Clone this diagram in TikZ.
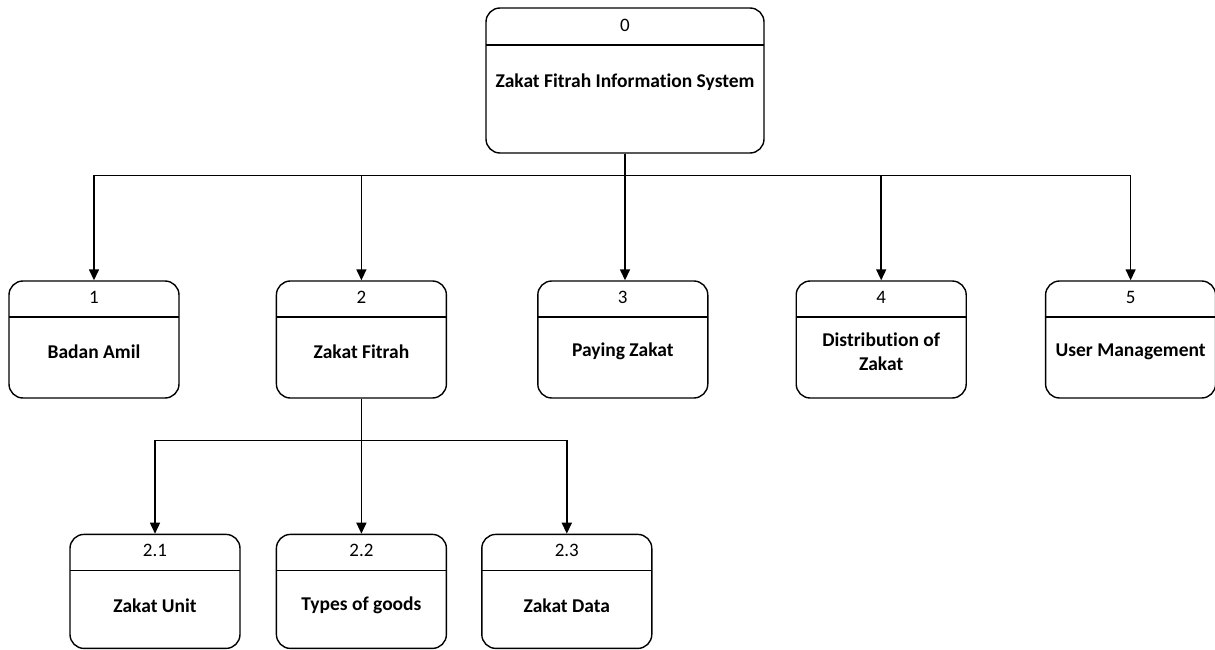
\documentclass[tikz,border=0pt]{standalone}
\usepackage{fontspec}
\setmainfont[Ligatures=NoCommon]{Carlito}
\usetikzlibrary{arrows.meta, positioning}
\tikzset{
  proc/.style={draw, line width=1.4pt, rounded corners=14pt, minimum width=170pt, minimum height=117pt, inner sep=0pt,
    path picture={\draw[line width=1.4pt] ([yshift=-36pt]path picture bounding box.north west) -- ([yshift=-36pt]path picture bounding box.north east);}},
  subproc/.style={proc, minimum height=114pt},
  num/.style={anchor=center, font=\fontsize{19}{22}\selectfont},
  proctext/.style={anchor=center, align=center, font=\bfseries\fontsize{19.5}{24}\selectfont},
  flow/.style={line width=1.5pt, -{Triangle[length=11pt, width=10pt]}}
}

\begin{document}
\begin{tikzpicture}[x=1pt, y=1pt]
\useasboundingbox (0,0) rectangle (1215,-650);
% context
\node[proc, minimum width=278pt, minimum height=145pt,
  path picture={\draw[line width=1.4pt] ([yshift=-37pt]path picture bounding box.north west) -- ([yshift=-37pt]path picture bounding box.north east);},
  label={[num, yshift=-18pt]north:0}, label={[proctext, yshift=-2pt]center:Zakat Fitrah Information System}] (top) at (625,-80.5) {};
% level 1
\node[proc, label={[num, yshift=-17pt]north:1}, label={[proctext, yshift=-12pt]center:Badan Amil}] (p1) at (94,-339.5) {};
\node[proc, right=96pt of p1, label={[num, yshift=-17pt]north:2}, label={[proctext, yshift=-12pt]center:Zakat Fitrah}] (p2) {};
\node[proc, right=90pt of p2, label={[num, yshift=-17pt]north:3}, label={[proctext, yshift=-12pt]center:Paying Zakat}] (p3) {};
\node[proc, right=87pt of p3, label={[num, yshift=-17pt]north:4}, label={[proctext, yshift=-12pt]center:Distribution of\\Zakat}] (p4) {};
\node[proc, right=78pt of p4, label={[num, yshift=-17pt]north:5}, label={[proctext, yshift=-12pt]center:User Management}] (p5) {};
% level 2
\node[subproc, below=135pt of p2, label={[num, yshift=-17pt]north:2.2}, label={[proctext, yshift=-14pt]center:Types of goods}] (p22) {};
\node[subproc, left=35pt of p22, label={[num, yshift=-17pt]north:2.1}, label={[proctext, yshift=-14pt]center:Zakat Unit}] (p21) {};
\node[subproc, right=34pt of p22, label={[num, yshift=-17pt]north:2.3}, label={[proctext, yshift=-14pt]center:Zakat Data}] (p23) {};

\draw[flow] (top.south) -- ++(0,-22) -| (p1.north);
\draw[flow] (top.south) -- ++(0,-22) -| (p2.north);
\draw[flow] (top.south) -- (top.south |- p3.north);
\draw[flow] (top.south) -- ++(0,-22) -| (p4.north);
\draw[flow] (top.south) -- ++(0,-22) -| (p5.north);

\draw[flow] (p2.south) -- ++(0,-42) -| (p21.north);
\draw[flow] (p2.south) -- (p22.north);
\draw[flow] (p2.south) -- ++(0,-42) -| (p23.north);
\end{tikzpicture}
\end{document}
